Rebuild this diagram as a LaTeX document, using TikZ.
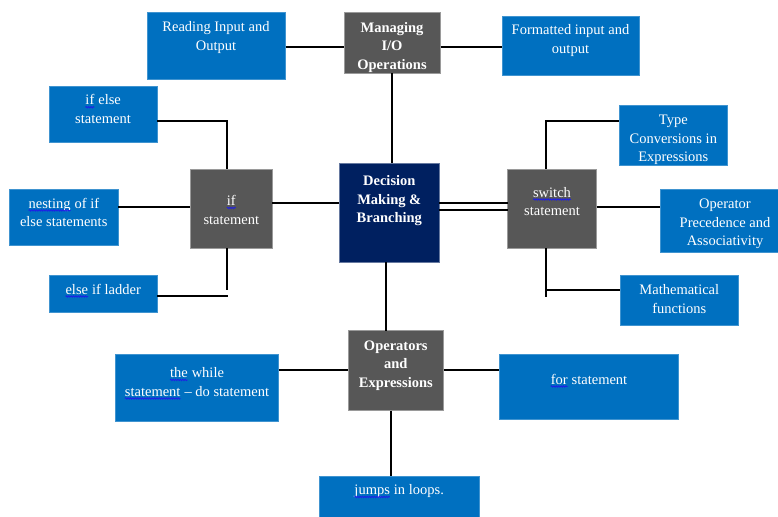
\documentclass[tikz,border=0pt]{standalone}
\usepackage{fontspec}
\setmainfont{Liberation Serif}
\usetikzlibrary{decorations.pathmorphing}
\definecolor{boxblue}{RGB}{0,112,192}
\definecolor{boxgray}{RGB}{87,87,87}
\definecolor{boxnavy}{RGB}{0,32,96}
\definecolor{spell}{RGB}{30,30,230}
% a word with a wavy spell-check underline
\newcommand\spellmark[1]{\tikz[baseline=(w.base), x=1cm, y=1cm]{%
  \node[anchor=base west, inner sep=0pt, outer sep=0pt, text=white] (w) {#1};
  \draw[spell, line width=0.8pt, decorate,
        decoration={snake, amplitude=0.7pt, segment length=2.4pt}]
    ([yshift=-2.3pt]w.base west) -- ([yshift=-2.3pt]w.base east);}}
\tikzset{
  card/.style={anchor=north west, inner sep=0pt, outer sep=0pt, line width=0.7pt},
  bluebox/.style={card, fill=boxblue, draw=boxblue!75!white},
  graybox/.style={card, fill=boxgray, draw=boxgray!60!white},
  navybox/.style={card, fill=boxnavy, draw=boxnavy!60!white},
  txt/.style={anchor=north, inner sep=0pt, align=center, text=white,
              font=\fontsize{14.5}{18.5}\selectfont},
  btxt/.style={txt, font=\fontsize{14.5}{18.5}\selectfont\bfseries},
  link/.style={draw=black, line width=1.7pt}
}
\begin{document}
\begin{tikzpicture}[x=1pt,y=-1pt]
\useasboundingbox (0,0) rectangle (778,516);
\fill[white] (0,0) rectangle (778,516);

% ---- boxes ----
\node[bluebox, minimum width=138.5pt, minimum height=66.5pt] (read) at (147,12.5) {};
\node[graybox, minimum width=96.5pt, minimum height=60.5pt] (mio) at (344,12.5) {};
\node[bluebox, minimum width=137pt, minimum height=59pt] (fmt) at (502,16.7) {};

\node[bluebox, minimum width=108pt, minimum height=56pt] (ifelse) at (49,86) {};
\node[bluebox, minimum width=109.3pt, minimum height=55.7pt] (nest) at (9,189.3) {};
\node[bluebox, minimum width=108pt, minimum height=36.6pt] (ladder) at (49,275.7) {};
\node[graybox, minimum width=82pt, minimum height=79.3pt] (ifst) at (190.3,169) {};

\node[navybox, minimum width=100pt, minimum height=99pt] (dec) at (339.3,163.3) {};

\node[graybox, minimum width=89.2pt, minimum height=79.3pt] (sw) at (507.5,169) {};
\node[bluebox, minimum width=108pt, minimum height=60pt] (type) at (619.3,105.7) {};
\node[bluebox, minimum width=120pt, minimum height=63pt] (oper) at (660,189.3) {};
\node[bluebox, minimum width=118pt, minimum height=50pt] (math) at (620.3,275.7) {};

\node[graybox, minimum width=95.7pt, minimum height=80pt] (ops) at (348,330.7) {};
\node[bluebox, minimum width=163.7pt, minimum height=67.7pt] (while) at (115,354) {};
\node[bluebox, minimum width=179.6pt, minimum height=65pt] (for) at (499,354) {};
\node[bluebox, minimum width=160pt, minimum height=44pt] (jumps) at (319,476) {};

% ---- texts ----
\node[txt] (read-t) at (216,18.5) {\strut Reading Input and\\Output};
\node[btxt] (mio-t) at (392,19.3) {\strut Managing\\I/O\\Operations};
\node[txt] (fmt-t) at (570.5,21.8) {\strut Formatted input and\\output};

\node[txt] (ifelse-t) at (103,91.8) {\strut\spellmark{if} else\\statement};
\node[txt] (nest-t) at (63.7,195) {\strut\spellmark{nesting} of if\\else statements};
\node[txt] (ladder-t) at (103,281) {\strut\spellmark{else} if ladder};
\node[txt] (ifst-t) at (231.3,192.5) {\strut\spellmark{if}\\statement};

\node[btxt] (dec-t) at (389.3,172.6) {\strut Decision\\Making \&\\Branching};

\node[txt] (sw-t) at (552,184) {\strut\spellmark{switch}\\statement};
\node[txt] (type-t) at (673.3,111.4) {\strut Type\\Conversions in\\Expressions};
\node[txt] (oper-t) at (725,195.6) {\strut Operator\\Precedence and\\Associativity};
\node[txt] (math-t) at (679.3,281.4) {\strut Mathematical\\functions};

\node[btxt] (ops-t) at (395.8,337) {\strut Operators\\and\\Expressions};
\node[txt] (while-t) at (196.8,364.5) {\strut\spellmark{the} while\\\spellmark{statement} -- do statement};
\node[txt] (for-t) at (588.8,371) {\strut\spellmark{for} statement};
\node[txt] (jumps-t) at (399,481.5) {\strut\spellmark{jumps} in loops.};

% ---- connectors ----
\draw[link] (read.east |- 0,47) -- (mio.west |- 0,47);
\draw[link] (mio.east |- 0,47) -- (fmt.west |- 0,47);
\draw[link] (392,0 |- mio.south) -- (392,0 |- dec.north);

\draw[link] (ifelse.east |- 0,121) -- (227,121) -- (227,0 |- ifst.north);
\draw[link] (nest.east |- 0,207) -- (ifst.west |- 0,207);
\draw[link] (ifst.east |- 0,203) -- (dec.west |- 0,203);
\coordinate (ifst-end) at (227,289.5);
\draw[link] (227,0 |- ifst.south) -- (ifst-end);
\coordinate (ladder-end) at (227.5,296);
\draw[link] (ladder.east |- ladder-end) -- (ladder-end);

\draw[link] (dec.east |- 0,203) -- (sw.west |- 0,203);
\draw[link] (dec.east |- 0,210) -- (sw.west |- 0,210);

\draw[link] (546,0 |- sw.north) -- (546,121) -- (type.west |- 0,121);
\draw[link] (sw.east |- 0,207) -- (oper.west |- 0,207);
\coordinate (sw-end) at (546,297);
\draw[link] (546,0 |- sw.south) -- (sw-end);
\draw[link] (546,290) -- (math.west |- 0,290);

\draw[link] (386,0 |- dec.south) -- (386,0 |- ops.north);
\draw[link] (while.east |- 0,370) -- (ops.west |- 0,370);
\draw[link] (ops.east |- 0,370) -- (for.west |- 0,370);
\draw[link] (391,0 |- ops.south) -- (391,0 |- jumps.north);
\end{tikzpicture}
\end{document}
